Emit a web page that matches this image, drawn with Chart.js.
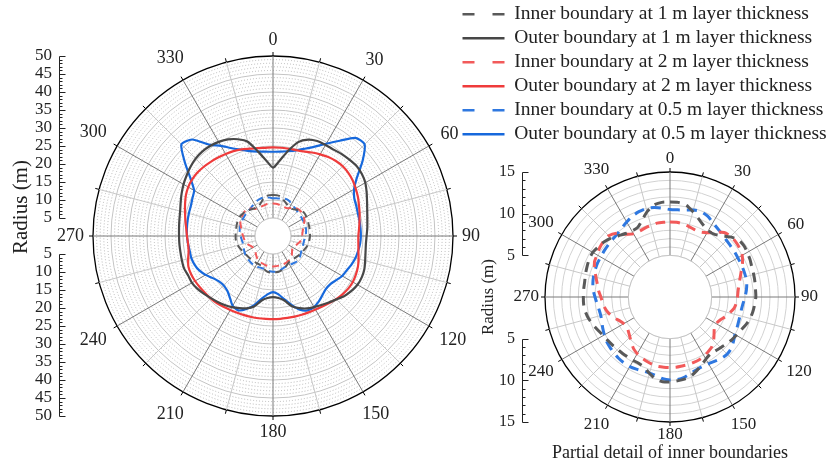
<!DOCTYPE html>
<html lang="en">
<head>
  <meta charset="UTF-8" />
  <title>Inner and outer boundaries</title>
  <script src="https://cdn.jsdelivr.net/npm/chart.js@4.4.0/dist/chart.umd.min.js"></script>
  <style>
    body { margin: 0; background: #fff; }
    #wrap { position: relative; width: 827px; height: 468px; overflow: hidden; }
    canvas { position: absolute; top: 0; }
    #full { left: 0; }
    #detail { left: 458px; }
  </style>
</head>
<body>
  <div id="wrap">
    <canvas id="full" width="490" height="468"></canvas>
    <canvas id="detail" width="369" height="468"></canvas>
  </div>

  <script>
    // angle of every sample (deg, clockwise from top)
    const angles = [0, 5, 10, 15, 20, 25, 30, 35, 40, 45, 50, 55, 60, 65, 70, 75, 80, 85,
      90, 95, 100, 105, 110, 115, 120, 125, 130, 135, 140, 145, 150, 155, 160, 165, 170, 175,
      180, 185, 190, 195, 200, 205, 210, 215, 220, 225, 230, 235, 240, 245, 250, 255, 260, 265,
      270, 275, 280, 285, 290, 295, 300, 305, 310, 315, 320, 325, 330, 335, 340, 345, 350, 355];
    const angleTicks = [0, 30, 60, 90, 120, 150, 180, 210, 240, 270, 300, 330];
    const fullTicks = [5, 10, 15, 20, 25, 30, 35, 40, 45, 50];
    const detailTicks = [5, 10, 15];

    // radius (m)
    const inner1m = [11.4, 11.4, 11.2, 10.6, 10.0, 9.5, 9.2, 9.2, 9.6, 10.2,
      10.7, 10.8, 10.7, 10.6, 10.45, 10.4, 10.35, 10.3, 10.3, 10.2,
      10.1, 9.95, 9.7, 9.4, 9.2, 9.0, 8.8, 8.6, 8.45, 8.4,
      8.6, 9.0, 9.4, 9.8, 10.0, 10.1, 10.2, 10.2, 10.0, 9.5,
      9.0, 8.8, 8.8, 8.8, 8.85, 8.9, 9.0, 9.1, 9.25, 9.5,
      9.8, 10.1, 10.3, 10.4, 10.4, 10.4, 10.4, 10.5, 10.6, 10.7,
      10.7, 10.5, 10.3, 10.0, 9.6, 9.3, 9.15, 9.2, 9.8, 10.6,
      11.2, 11.4];
    const outer1m = [19.0, 21.0, 24.0, 27.0, 28.5, 29.1, 29.2, 29.3, 29.7, 30.0,
      30.3, 30.1, 29.6, 28.7, 27.8, 27.1, 26.6, 26.3, 26.0, 25.9,
      26.1, 26.5, 27.0, 27.2, 27.1, 26.6, 25.9, 24.9, 24.1, 23.4,
      22.8, 22.2, 21.3, 20.2, 18.2, 17.3, 17.0, 17.3, 18.2, 20.3,
      21.4, 22.1, 22.8, 23.4, 23.9, 24.4, 25.0, 25.6, 26.0, 26.0,
      26.3, 26.2, 26.1, 26.1, 26.1, 26.2, 26.4, 26.7, 27.3, 28.0,
      28.7, 29.3, 29.9, 30.4, 30.6, 30.5, 30.2, 29.6, 28.6, 27.1,
      23.8, 21.0];
    const inner2m = [9.0, 9.0, 8.9, 8.75, 8.6, 8.6, 8.9, 9.5, 10.1, 10.3,
      10.3, 10.2, 10.0, 9.6, 9.1, 8.7, 8.4, 8.2, 8.1, 8.0,
      7.8, 7.4, 7.0, 6.6, 6.4, 6.5, 6.9, 7.4, 7.8, 8.0,
      8.2, 8.3, 8.35, 8.4, 8.4, 8.45, 8.45, 8.45, 8.45, 8.35,
      8.2, 8.05, 7.85, 7.6, 7.2, 6.8, 6.5, 6.3, 6.4, 6.7,
      7.2, 7.6, 7.9, 8.1, 8.3, 8.6, 8.85, 9.2, 9.6, 10.0,
      10.1, 10.3, 10.4, 10.4, 10.0, 9.2, 8.75, 8.7, 8.8, 8.9,
      9.0, 9.0];
    const outer2m = [24.6, 24.6, 24.6, 24.7, 25.0, 25.6, 26.2, 26.8, 27.2, 27.4,
      27.3, 27.0, 26.5, 26.0, 25.4, 24.9, 24.4, 24.0, 23.7, 23.8,
      24.1, 24.6, 25.1, 25.4, 25.6, 25.5, 25.2, 24.8, 24.3, 23.9,
      23.6, 23.4, 23.3, 23.2, 23.1, 23.1, 23.1, 23.1, 23.2, 23.3,
      23.4, 23.5, 23.7, 24.0, 24.3, 24.5, 24.6, 24.8, 25.0, 25.1,
      25.0, 24.4, 23.8, 23.7, 23.9, 24.2, 24.7, 25.3, 26.0, 26.7,
      27.2, 27.4, 27.4, 27.2, 26.9, 26.6, 26.3, 26.0, 25.6, 25.1,
      24.8, 24.6];
    const inner05m = [10.5, 10.5, 10.6, 10.8, 10.9, 10.7, 10.3, 10.0, 9.8, 9.6,
      9.5, 9.45, 9.4, 9.4, 9.4, 9.4, 9.35, 9.2, 9.0, 8.8,
      8.7, 8.7, 8.75, 8.85, 9.0, 9.3, 9.6, 9.7, 9.6, 9.4,
      9.25, 9.2, 9.3, 9.5, 9.8, 9.95, 9.95, 9.85, 9.6, 9.45,
      9.45, 9.55, 9.65, 9.65, 9.6, 9.5, 9.4, 9.3, 9.1, 8.9,
      8.7, 8.6, 8.65, 8.8, 9.0, 9.25, 9.4, 9.5, 9.55, 9.6,
      9.6, 9.65, 9.7, 9.75, 9.85, 10.1, 10.4, 10.7, 10.9, 11.0,
      10.9, 10.7];
    const outer05m = [23.4, 23.5, 23.9, 24.6, 25.8, 27.4, 29.6, 32.3, 35.6, 36.0,
      32.5, 28.5, 26.0, 24.9, 24.6, 24.4, 24.4, 24.4, 24.4, 24.3,
      24.0, 23.7, 23.2, 22.6, 22.2, 21.4, 20.8, 20.8, 21.4, 22.2,
      22.8, 22.8, 21.8, 19.8, 17.8, 16.2, 15.6, 16.2, 17.6, 19.8,
      21.6, 22.8, 22.4, 20.9, 19.8, 19.4, 19.6, 20.4, 21.6, 22.6,
      23.2, 23.5, 23.5, 23.7, 23.9, 24.0, 24.1, 24.2, 24.3, 24.7,
      25.3, 28.0, 32.0, 36.0, 35.0, 31.0, 28.9, 26.9, 25.5, 24.4,
      23.8, 23.5];

    const series = [
      { label: 'Inner boundary at 1 m layer thickness', data: inner1m, color: '#595959', dashed: true },
      { label: 'Outer boundary at 1 m layer thickness', data: outer1m, color: '#474747', dashed: false },
      { label: 'Inner boundary at 2 m layer thickness', data: inner2m, color: '#f25a5a', dashed: true },
      { label: 'Outer boundary at 2 m layer thickness', data: outer2m, color: '#ef3b3b', dashed: false },
      { label: 'Inner boundary at 0.5 m layer thickness', data: inner05m, color: '#2f78e0', dashed: true },
      { label: 'Outer boundary at 0.5 m layer thickness', data: outer05m, color: '#1668dc', dashed: false }
    ];

    const serif = "'Liberation Serif', 'Times New Roman', serif";
    Chart.defaults.font.family = serif;
    Chart.defaults.color = '#222';

    // hole in the middle, ring ticks, angle labels and the split radius axis
    const polarDecor = {
      id: 'polarDecor',
      beforeDatasetsDraw(chart, args, o) {
        const s = chart.scales.r;
        const ctx = chart.ctx;
        ctx.save();
        ctx.beginPath();
        ctx.arc(s.xCenter, s.yCenter, s.getDistanceFromCenterForValue(o.hole), 0, 2 * Math.PI);
        ctx.fillStyle = '#fff';
        ctx.fill();
        ctx.strokeStyle = '#c4c4c4';
        ctx.lineWidth = 1;
        ctx.stroke();
        ctx.restore();
      },
      afterDraw(chart, args, o) {
        const s = chart.scales.r;
        const ctx = chart.ctx;
        const R = s.drawingArea;
        const dist = v => s.getDistanceFromCenterForValue(v);
        ctx.save();

        ctx.strokeStyle = '#000';
        ctx.lineWidth = 1;
        angles.forEach((deg, i) => {
          if (deg % 15) return;
          const a = s.getPointPosition(i, R);
          const b = s.getPointPosition(i, R + 4);
          ctx.beginPath();
          ctx.moveTo(a.x, a.y);
          ctx.lineTo(b.x, b.y);
          ctx.stroke();
        });

        ctx.fillStyle = '#222';
        ctx.font = o.angleFont;
        ctx.textAlign = 'center';
        ctx.textBaseline = 'middle';
        angleTicks.forEach(deg => {
          const t = deg * Math.PI / 180;
          const w = ctx.measureText(String(deg)).width;
          const d = R + o.anglePad + Math.abs(Math.sin(t)) * w / 2 +
            Math.abs(Math.cos(t)) * o.halfH + 4 * Math.abs(Math.sin(2 * t));
          const p = s.getPointPosition(angles.indexOf(deg), d);
          ctx.fillText(String(deg), p.x, p.y);
        });

        const ax = o.axisX + 0.5;
        ctx.strokeStyle = '#222';
        ctx.font = o.tickFont;
        ctx.textAlign = 'right';
        [-1, 1].forEach(dir => {
          ctx.beginPath();
          ctx.moveTo(ax, Math.round(s.yCenter + dir * dist(o.min)) + 0.5);
          ctx.lineTo(ax, Math.round(s.yCenter + dir * dist(o.max)) + 0.5);
          ctx.stroke();
          for (let v = o.min; v <= o.max; v += 1) {
            const y = Math.round(s.yCenter + dir * dist(v)) + 0.5;
            ctx.beginPath();
            ctx.moveTo(ax, y);
            ctx.lineTo(ax + (v % 5 ? 3 : 6), y);
            ctx.stroke();
          }
          o.ticks.forEach(v => ctx.fillText(String(v), o.axisX - 7, s.yCenter + dir * dist(v)));
        });

        if (o.title) {
          ctx.translate(o.titleX, o.titleY);
          ctx.rotate(-Math.PI / 2);
          ctx.textAlign = 'center';
          ctx.font = o.titleFont;
          ctx.fillText(o.title, 0, 0);
        }
        ctx.restore();
      }
    };

    const angleLineColor = c => angles[c.index] % 30 === 0 ? '#7a7a7a'
      : (angles[c.index] % 15 === 0 ? '#c8c8c8' : 'rgba(0,0,0,0)');
    const angleLineWidth = c => angles[c.index] % 15 === 0 ? 1 : 0;

    // full view
    new Chart(document.getElementById('full'), {
      type: 'radar',
      data: {
        labels: angles,
        datasets: series.map(s => ({
          label: s.label,
          data: s.data,
          borderColor: s.color,
          borderWidth: s.dashed ? 2 : 2.2,
          borderDash: s.dashed ? [7, 5] : [],
          pointRadius: 0,
          pointHitRadius: 0,
          fill: false,
          tension: 0.22
        }))
      },
      options: {
        responsive: false,
        animation: false,
        layout: { padding: { left: 93, right: 37, top: 56, bottom: 52 } },
        scales: {
          r: {
            min: 0,
            max: 50,
            ticks: { display: false, stepSize: 1 },
            pointLabels: { display: false },
            grid: {
              circular: true,
              color: c => c.tick.value === 50 ? '#000' : (c.tick.value % 5 === 0 ? '#c4c4c4' : '#a8a8a8'),
              lineWidth: c => c.tick.value === 50 ? 1.3 : (c.tick.value % 5 === 0 ? 1 : 0.8)
            },
            border: { dash: c => c.tick.value % 5 === 0 ? [] : [1, 2] },
            angleLines: { color: angleLineColor, lineWidth: angleLineWidth }
          }
        },
        plugins: {
          legend: { display: false },
          tooltip: { enabled: false },
          polarDecor: {
            hole: 5, min: 5, max: 50, ticks: fullTicks, axisX: 59,
            tickFont: '17px ' + serif, angleFont: '18px ' + serif, anglePad: 9, halfH: 7,
            title: 'Radius (m)', titleX: 21, titleY: 207, titleFont: '21px ' + serif
          }
        }
      },
      plugins: [polarDecor]
    });

    // detail of the inner boundaries, legend for both views
    new Chart(document.getElementById('detail'), {
      type: 'radar',
      data: {
        labels: angles,
        datasets: series.map(s => ({
          label: s.label,
          data: s.data,
          borderColor: s.color,
          borderWidth: 3,
          borderDash: [10, 7],
          showLine: s.dashed,
          pointRadius: 0,
          pointHitRadius: 0,
          fill: false,
          tension: 0.25
        }))
      },
      options: {
        responsive: false,
        animation: false,
        scales: {
          r: {
            min: 0,
            max: 15,
            ticks: { display: false, stepSize: 1 },
            pointLabels: { display: false },
            grid: {
              circular: true,
              color: c => c.tick.value === 15 ? '#000' : '#d2d2d2',
              lineWidth: c => c.tick.value === 15 ? 1.3 : 1
            },
            angleLines: { color: angleLineColor, lineWidth: angleLineWidth }
          },
          // empty strip right of the polar area, keeps the legend full width
          gap: {
            type: 'linear',
            position: 'right',
            display: false,
            afterFit: s => { s.width = 32; }
          }
        },
        plugins: {
          tooltip: { enabled: false },
          legend: {
            position: 'top',
            align: 'start',
            labels: {
              usePointStyle: true,
              pointStyleWidth: 42,
              padding: 4.5,
              color: '#222',
              font: { size: 19.5 },
              generateLabels: () => series.map((s, i) => ({
                text: s.label,
                strokeStyle: s.color,
                fillStyle: s.color,
                fontColor: '#222',
                lineWidth: 2.5,
                lineDash: s.dashed ? [12, 18] : [],
                pointStyle: 'line',
                hidden: false,
                datasetIndex: i
              }))
            }
          },
          title: {
            display: true,
            position: 'left',
            fullSize: false,
            text: 'Radius (m)',
            color: '#222',
            font: { size: 17, weight: 'normal' },
            padding: { top: 20, bottom: 46.6 }
          },
          subtitle: {
            display: true,
            position: 'bottom',
            fullSize: false,
            text: 'Partial detail of inner boundaries',
            color: '#222',
            font: { size: 18 },
            padding: { top: 2.2, bottom: 4.2 }
          },
          polarDecor: {
            hole: 5, min: 5, max: 15, ticks: detailTicks, axisX: 64,
            tickFont: '16px ' + serif, angleFont: '17px ' + serif, anglePad: 6, halfH: 7
          }
        }
      },
      plugins: [polarDecor]
    });
  </script>
</body>
</html>
